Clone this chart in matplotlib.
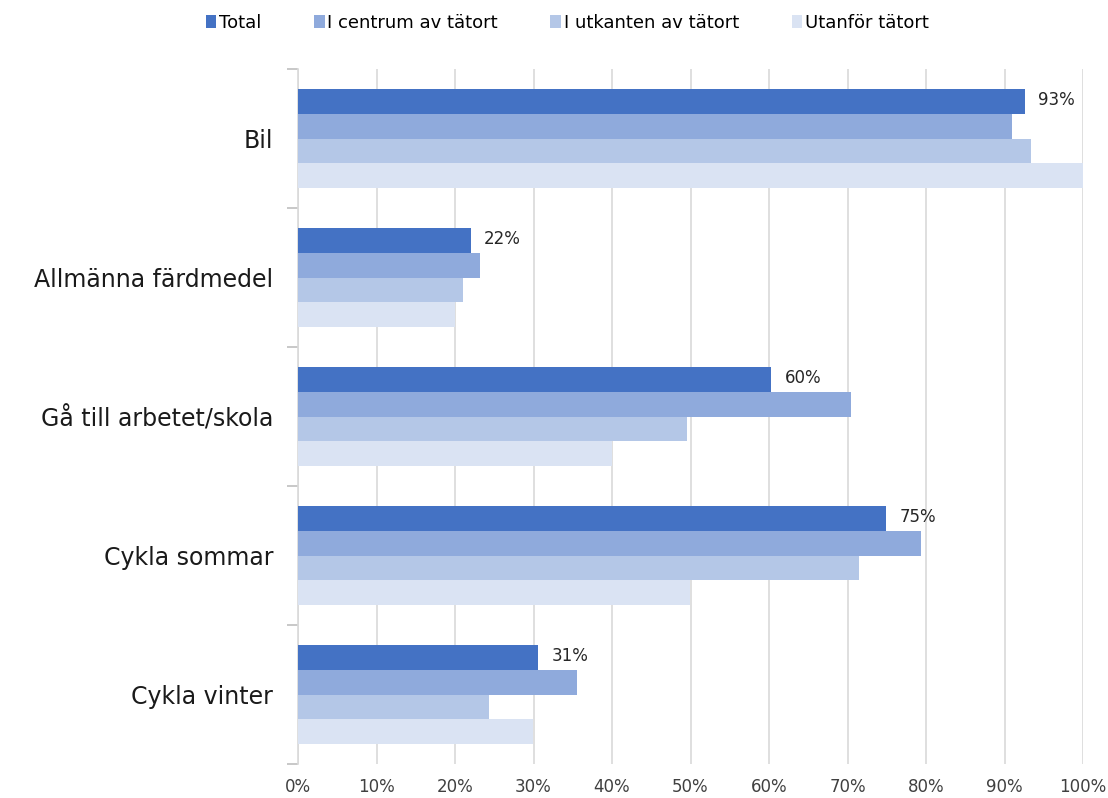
import numpy as np
import matplotlib.pyplot as plt
from matplotlib.ticker import PercentFormatter, FixedLocator

plt.rcParams['font.family'] = ['DejaVu Sans']

# Andel som anser att färdsättet fungerar, per boendeområde (%)
categories = ['Bil', 'Allmänna färdmedel', 'Gå till arbetet/skola', 'Cykla sommar', 'Cykla vinter']
series = ['Total', 'I centrum av tätort', 'I utkanten av tätort', 'Utanför tätort']
total = [92.6, 22.0, 60.3, 74.9, 30.6]
centrum = [91.0, 23.2, 70.4, 79.4, 35.5]
utkanten = [93.4, 21.0, 49.6, 71.5, 24.3]
utanfor = [100.0, 20.0, 40.0, 49.9, 29.9]
colors = ['#4472C4', '#8FAADC', '#B4C7E7', '#DAE3F3']

fig = plt.figure(figsize=(11.08, 7.98), dpi=100)
ax = fig.add_axes([298 / 1108, 1 - 764 / 798, 785 / 1108, 695 / 798])

y = np.arange(len(categories))
h = 0.178
for i, (vals, name, col) in enumerate(zip([total, centrum, utkanten, utanfor], series, colors)):
    pos = y + (i - 1.5) * h
    ax.barh(pos, vals, height=h, color=col, label=name, zorder=3)
    if i == 0:
        for p, v in zip(pos, vals):
            ax.text(v + 1.7, p - 0.01, f'{v:.0f}%', va='center', ha='left',
                    fontsize=12, color='#262626')

ax.set_xlim(0, 100)
ax.set_ylim(len(categories) - 0.5, -0.5)
ax.set_xticks(np.arange(0, 101, 10))
ax.xaxis.set_major_formatter(PercentFormatter(decimals=0))
ax.tick_params(axis='x', length=0, labelsize=12, labelcolor='#404040', pad=10)
ax.grid(axis='x', color='#D9D9D9', linewidth=1.2, zorder=0)

ax.set_yticks(y)
ax.set_yticklabels(categories, fontsize=17, color='#1a1a1a')
ax.tick_params(axis='y', length=0, pad=18)
ax.yaxis.set_minor_locator(FixedLocator(np.arange(-0.5, len(categories), 1)))
ax.tick_params(axis='y', which='minor', length=8, color='#BFBFBF', width=1.2)

for s in ['top', 'right', 'bottom']:
    ax.spines[s].set_visible(False)
ax.spines['left'].set_color('#D9D9D9')
ax.spines['left'].set_linewidth(1.2)

fig.legend(loc='upper center', bbox_to_anchor=(0.512, 1.003), ncol=4, frameon=False,
           fontsize=13, handlelength=0.6, handleheight=0.8, handletextpad=0.15,
           columnspacing=2.9)

fig.savefig('out.png', dpi=100)
